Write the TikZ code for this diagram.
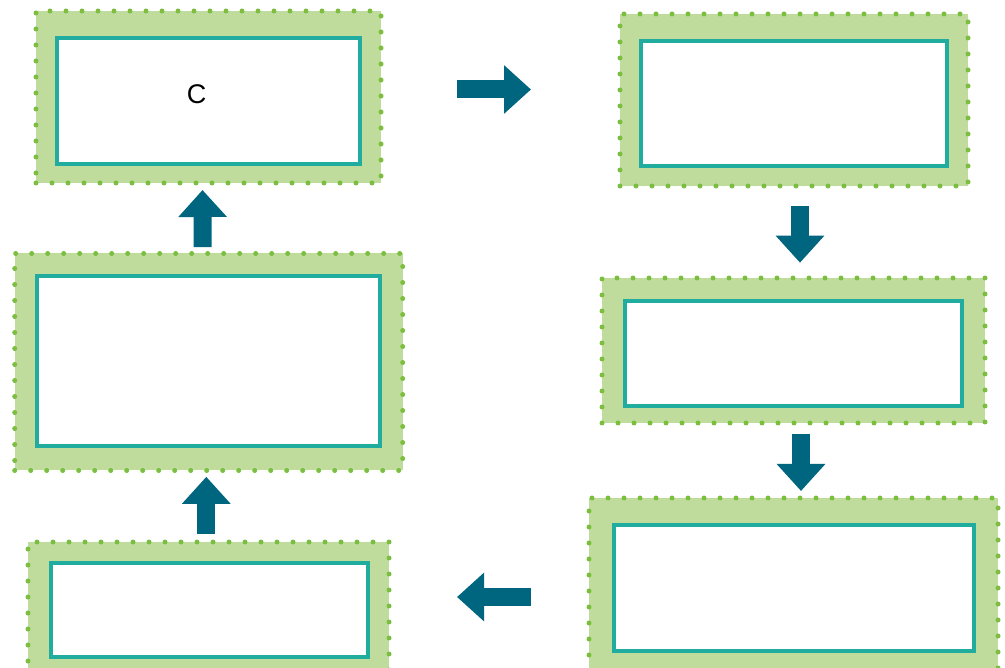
\documentclass[tikz,border=0pt]{standalone}
\usepackage{fontspec}
\setmainfont{Liberation Sans}
\usepackage{xcolor}
\usepackage{tikz}
\usetikzlibrary{arrows.meta, positioning, calc}
\definecolor{leafgreen}{RGB}{192, 220, 157}
\definecolor{dotgreen}{RGB}{124, 190, 64}
\definecolor{tealline}{RGB}{32, 172, 158}
\definecolor{flowblue}{RGB}{0, 102, 128}

\begin{document}
\begin{tikzpicture}[x=1pt, y=-1pt,
    frame/.style={rectangle, inner sep=0pt, outer sep=0pt, fill=leafgreen, draw=dotgreen, line width=5pt, dash pattern=on 0pt off 16pt, line cap=round},
    panel/.style={rectangle, inner sep=0pt, outer sep=0pt, fill=white, draw=tealline, line width=4pt},
    flow/.style={draw=flowblue, line width=18pt, -{Triangle[length=27pt, width=47pt]}}
]
\useasboundingbox (0,0) rectangle (1005,668);

% outer frames
\node[frame, minimum width=345pt, minimum height=172pt] (s1) at (208.5,97) {};
\node[frame, minimum width=348pt, minimum height=172pt] (s2) at (794,100) {};
\node[frame, minimum width=383pt, minimum height=145pt] (s3) at (793.5,350.5) {};
\node[frame, minimum width=409pt, minimum height=177pt] (s4) at (793.5,586.5) {};
\node[frame, minimum width=361pt, minimum height=135pt] (s5) at (208.5,609.5) {};
\node[frame, minimum width=388pt, minimum height=217pt] (s6) at (208.7,362) {};

% inner panels
\node[panel, minimum width=303pt, minimum height=126pt] (i1) at (208.5,101) {};
\node[panel, minimum width=306.5pt, minimum height=125pt] (i2) at (793.75,103.5) {};
\node[panel, minimum width=337pt, minimum height=105.5pt] (i3) at (793.5,353.75) {};
\node[panel, minimum width=360pt, minimum height=126.5pt] (i4) at (794,588) {};
\node[panel, minimum width=317pt, minimum height=94pt] (i5) at (209,609.5) {};
\node[panel, minimum width=343pt, minimum height=170pt] (i6) at (208.5,361) {};

\node[font=\fontsize{27}{30}\selectfont] (c) at (196.5,94) {C};

% flow arrows
\draw[flow] ([xshift=76pt, yshift=7.5pt]s1.east) -- ([xshift=-89pt, yshift=10.5pt]s2.west);
\draw[flow] ([xshift=6pt, yshift=-20pt]s2.south) -- ([xshift=6.5pt, yshift=15.3pt]s3.north);
\draw[flow] ([xshift=7.5pt, yshift=-10.7pt]s3.south) -- ([xshift=7.5pt, yshift=7pt]s4.north);
\draw[flow] ([xshift=-58pt, yshift=-10.5pt]s4.west) -- ([xshift=68pt, yshift=12.5pt]s5.east);
\draw[flow] ([xshift=-2.2pt, yshift=8pt]s5.north) -- ([xshift=-2.4pt, yshift=-6.3pt]s6.south);
\draw[flow] ([xshift=-6pt, yshift=6.3pt]s6.north) -- ([xshift=-6pt, yshift=-7pt]s1.south);
\end{tikzpicture}
\end{document}
